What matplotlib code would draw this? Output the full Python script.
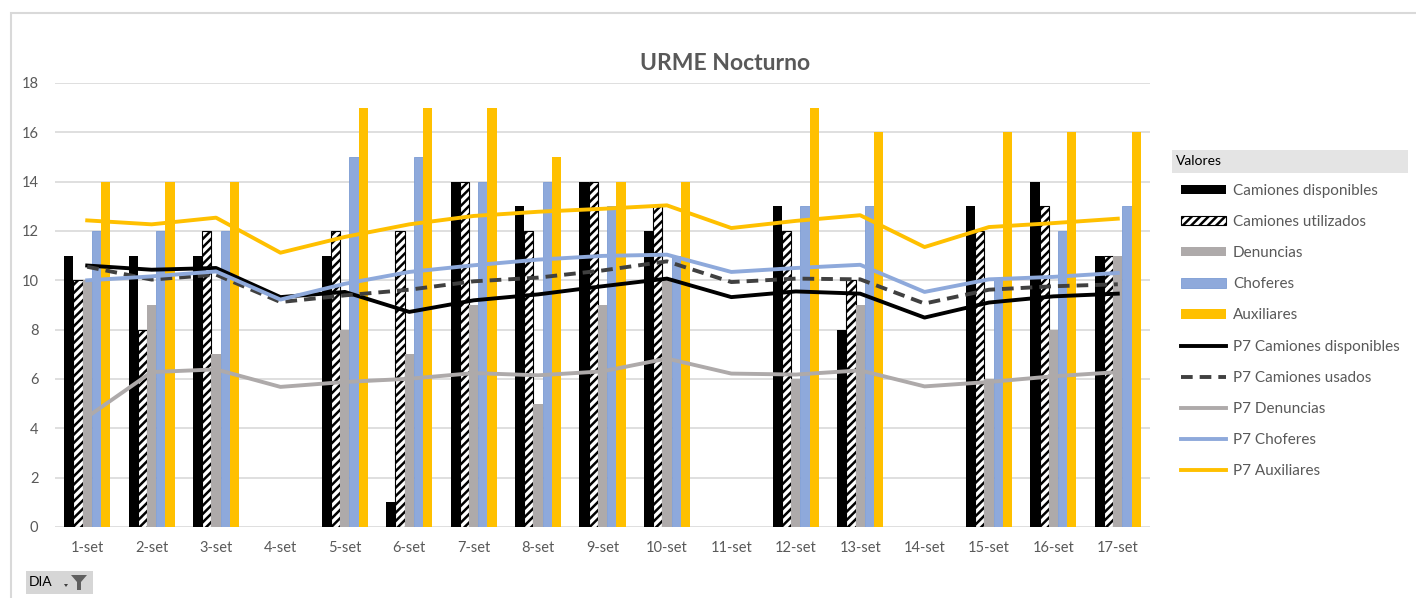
import numpy as np
import matplotlib
matplotlib.use("Agg")
import matplotlib.pyplot as plt
from matplotlib.patches import Rectangle, Polygon

plt.rcParams['font.family'] = ['Lato', 'DejaVu Sans']
plt.rcParams['hatch.linewidth'] = 1.8

dias = ['1-set', '2-set', '3-set', '4-set', '5-set', '6-set', '7-set', '8-set', '9-set',
        '10-set', '11-set', '12-set', '13-set', '14-set', '15-set', '16-set', '17-set']

nan = np.nan
cam_disp = [11, 11, 11, nan, 11, 1, 14, 13, 14, 12, nan, 13, 8, nan, 13, 14, 11]
cam_util = [10, 8, 12, nan, 12, 12, 14, 12, 14, 13, nan, 12, 10, nan, 12, 13, 11]
denuncias = [10, 9, 7, nan, 8, 7, 9, 5, 9, 10, nan, 6, 9, nan, 6, 8, 11]
choferes = [12, 12, 12, nan, 15, 15, 14, 14, 13, 11, nan, 13, 13, nan, 10, 12, 13]
auxiliares = [14, 14, 14, nan, 17, 17, 17, 15, 14, 14, nan, 17, 16, nan, 16, 16, 16]

p7_cam_disp = [10.6, 10.43, 10.5, 9.32, 9.53, 8.72, 9.19, 9.43, 9.76, 10.07, 9.32, 9.55, 9.46, 8.49, 9.1, 9.35, 9.46]
p7_cam_usad = [10.55, 10.03, 10.23, 9.12, 9.39, 9.62, 9.96, 10.11, 10.4, 10.77, 9.93, 10.07, 10.04, 9.06, 9.62, 9.76, 9.84]
p7_denuncias = [4.46, 6.28, 6.39, 5.68, 5.88, 6.01, 6.24, 6.15, 6.31, 6.83, 6.22, 6.18, 6.35, 5.7, 5.88, 6.11, 6.28]
p7_choferes = [10.0, 10.16, 10.36, 9.22, 9.86, 10.34, 10.61, 10.84, 10.99, 11.04, 10.34, 10.5, 10.63, 9.53, 10.04, 10.14, 10.3]
p7_auxiliares = [12.43, 12.27, 12.54, 11.12, 11.76, 12.27, 12.61, 12.78, 12.9, 13.04, 12.12, 12.41, 12.64, 11.35, 12.16, 12.32, 12.5]

W, H = 1416, 598
fig = plt.figure(figsize=(W / 100, H / 100), dpi=100)

# chart frame
fig.add_artist(Rectangle((11 / W, -0.05), 1.0, 1 - 13 / H + 0.05, transform=fig.transFigure,
                         fill=False, edgecolor='#D9D9D9', linewidth=1.5))

ax = fig.add_axes([55 / W, 1 - 527 / H, (1150 - 55) / W, (527 - 83) / H])
x = np.arange(len(dias))
bw = 0.143
grey_txt = '#595959'

b1 = ax.bar(x - 2 * bw, cam_disp, bw, color='black', zorder=2, label='Camiones disponibles')
b2 = ax.bar(x - bw, cam_util, bw, color='white', edgecolor='black', hatch='////', linewidth=0.8,
            zorder=2, label='Camiones utilizados')
b3 = ax.bar(x, denuncias, bw, color='#AEAAAA', zorder=2, label='Denuncias')
b4 = ax.bar(x + bw, choferes, bw, color='#8EA9DB', edgecolor='#7B9BD4', linewidth=0.6,
            zorder=2, label='Choferes')
b5 = ax.bar(x + 2 * bw, auxiliares, bw, color='#FFC000', zorder=2, label='Auxiliares')

l1, = ax.plot(x, p7_cam_disp, color='black', lw=2.8, zorder=3, label='P7 Camiones disponibles')
l2, = ax.plot(x, p7_cam_usad, color='#404040', lw=2.8, ls=(0, (3, 1.8)), zorder=3,
              label='P7 Camiones usados')
l3, = ax.plot(x, p7_denuncias, color='#AEAAAA', lw=2.8, zorder=3, label='P7 Denuncias')
l4, = ax.plot(x, p7_choferes, color='#8EA9DB', lw=2.8, zorder=3, label='P7 Choferes')
l5, = ax.plot(x, p7_auxiliares, color='#FFC000', lw=2.8, zorder=3, label='P7 Auxiliares')

ax.set_xlim(-0.5, len(dias) - 0.5)
ax.set_ylim(0, 18)
ax.set_yticks(range(0, 19, 2))
ax.set_xticks(x)
ax.set_xticklabels(dias)
ax.grid(axis='y', color='#D9D9D9', linewidth=1.2, zorder=0)
for s in ax.spines.values():
    s.set_visible(False)
ax.tick_params(length=0, labelsize=10.5, labelcolor=grey_txt)
ax.tick_params(axis='y', pad=12)
ax.tick_params(axis='x', pad=10)

fig.text(725 / W, 1 - 63 / H, 'URME Nocturno', ha='center', va='center',
         fontsize=16.5, fontweight='bold', color=grey_txt)

# legend header
fig.add_artist(Rectangle((1172 / W, 1 - 173 / H), 236 / W, 23 / H, transform=fig.transFigure,
                         facecolor='#E4E4E4', edgecolor='none'))
fig.text(1176 / W, 1 - 161 / H, 'Valores', ha='left', va='center', fontsize=10, color='black')

handles = [b1, b2, b3, b4, b5, l1, l2, l3, l4, l5]
leg = fig.legend(handles, [h.get_label() for h in handles], loc='upper left',
                 bbox_to_anchor=(1181 / W, 1 - 184 / H), frameon=False, fontsize=11,
                 handlelength=2.95, handleheight=0.55, handletextpad=0.45, labelspacing=1.12,
                 borderpad=0, borderaxespad=0)
for t in leg.get_texts():
    t.set_color(grey_txt)

# filter button
fig.add_artist(Rectangle((26 / W, 1 - 594 / H), 67 / W, 23 / H, transform=fig.transFigure,
                         facecolor='#D6D6D6', edgecolor='none'))
fig.text(29 / W, 1 - 582 / H, 'DIA', ha='left', va='center', fontsize=10, color='black')
fig.add_artist(Polygon([[64 / W, 1 - 584 / H], [68 / W, 1 - 584 / H], [66 / W, 1 - 587 / H]],
                       closed=True, transform=fig.transFigure, facecolor='#404040', edgecolor='none'))
fig.add_artist(Polygon([[71 / W, 1 - 575 / H], [87 / W, 1 - 575 / H], [81 / W, 1 - 582 / H],
                        [81 / W, 1 - 590 / H], [77 / W, 1 - 590 / H], [77 / W, 1 - 582 / H]],
                       closed=True, transform=fig.transFigure, facecolor='#606060', edgecolor='none'))

fig.savefig('out.png', dpi=100)
